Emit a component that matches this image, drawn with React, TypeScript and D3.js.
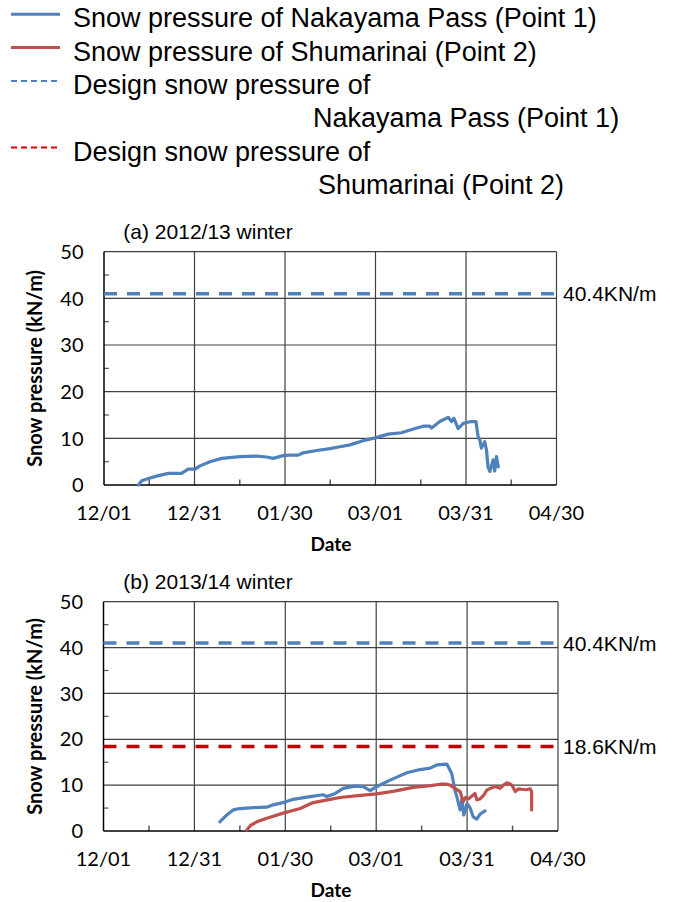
import * as d3 from 'd3';

// days counted from 12/01 of each winter
const tickDays = [0, 30, 60, 90, 120, 150];
const tickLabels = ['12/01', '12/31', '01/30', '03/01', '03/31', '04/30'];
const minorDays = [15, 45, 75, 105, 135];
const yTicks = [0, 10, 20, 30, 40, 50];
const yMinor = [5, 15, 25, 35, 45];

// (a) 2012/13 winter, Nakayama Pass
const nakayama1213: [number, number][] = [
  [11.4, 0], [12.5, 0.9], [14.7, 1.4], [17.4, 1.9], [21.3, 2.5], [25.7, 2.5], [27.9, 3.4],
  [30.2, 3.4], [31.8, 4.1], [35.1, 5.0], [39.0, 5.7], [45.1, 6.1], [50.6, 6.2], [53.9, 6.0],
  [56.1, 5.7], [59.4, 6.3], [61.6, 6.4], [64.4, 6.4], [66.0, 6.9], [70.5, 7.4], [74.9, 7.8],
  [78.2, 8.2], [81.5, 8.6], [85.9, 9.5], [89.9, 10.1], [94.2, 10.9], [98.6, 11.2], [102.0, 11.9],
  [105.8, 12.6], [108.0, 12.6], [108.6, 12.2], [111.3, 13.6], [114.1, 14.5], [115.2, 13.6],
  [116.0, 14.3], [117.4, 12.1], [119.1, 13.2], [120.2, 13.4], [121.8, 13.6], [123.3, 13.6],
  [124.0, 10.4], [124.6, 9.6], [125.1, 7.9], [126.2, 9.3], [126.8, 7.5], [127.3, 3.9],
  [127.9, 2.9], [129.0, 5.4], [129.5, 3.0], [130.1, 6.1], [130.7, 3.9]
];

// (b) 2013/14 winter
const nakayama1314: [number, number][] = [
  [38.4, 2.0], [40.7, 3.5], [42.8, 4.6], [45.0, 4.9], [49.4, 5.1], [53.9, 5.2], [56.0, 5.7],
  [59.9, 6.3], [62.6, 6.9], [68.2, 7.5], [72.5, 7.9], [73.7, 7.5], [76.5, 8.2], [79.1, 9.3],
  [83.0, 9.8], [85.7, 9.7], [88.0, 8.8], [90.2, 9.7], [94.6, 11.1], [100.1, 12.7], [104.5, 13.4],
  [107.8, 13.7], [110.0, 14.4], [113.3, 14.6], [114.9, 12.6], [116.0, 8.9], [116.6, 7.5],
  [117.7, 4.6], [118.3, 7.0], [118.9, 3.5], [120.0, 6.0], [121.0, 5.0], [122.0, 3.1],
  [123.2, 2.6], [124.3, 3.7], [125.9, 4.4]
];

const shumarinai1314: [number, number][] = [
  [47.3, 0.2], [48.5, 1.2], [50.6, 2.0], [53.9, 2.8], [59.3, 3.9], [64.9, 4.9], [69.2, 6.2],
  [74.8, 6.9], [78.1, 7.3], [84.0, 7.7], [90.2, 8.1], [96.0, 8.7], [102.2, 9.5], [108.0, 9.9],
  [111.1, 10.2], [113.3, 10.2], [114.4, 10.0], [116.0, 9.3], [117.7, 8.6], [118.7, 6.4],
  [119.5, 7.3], [120.4, 7.0], [121.5, 7.6], [122.6, 8.2], [123.2, 6.8], [124.3, 7.0],
  [125.5, 7.8], [126.5, 8.9], [128.0, 9.4], [129.2, 9.7], [130.9, 9.3], [132.0, 10.0],
  [133.1, 10.5], [134.0, 10.3], [134.8, 10.0], [135.9, 8.6], [137.0, 9.2], [138.0, 9.1],
  [139.5, 9.0], [140.8, 9.2], [141.3, 8.6], [141.3, 4.6]
];

// design snow pressure lines (drawn position) and their labels
const designNakayama = 41;
const designShumarinai = 18.4;

const BLUE = '#4F81BD';
const RED = '#C0504D';
const DARKRED = '#C00000';
const ARIAL = '"Liberation Sans", Arial, sans-serif';
const CALIBRI = 'Lato, "Open Sans", sans-serif';

type Series = { data: [number, number][]; color: string };
type Design = { value: number; color: string; label: string };

function Panel({ title, left, right, top, bottom, series, designs }: {
  title: string; left: number; right: number; top: number; bottom: number;
  series: Series[]; designs: Design[];
}) {
  const x = d3.scaleLinear().domain([0, 150]).range([left, right]);
  const y = d3.scaleLinear().domain([0, 50]).range([bottom, top]);
  const line = d3.line<[number, number]>().x(d => x(d[0])).y(d => y(d[1]));
  const cy = (top + bottom) / 2;

  return (
    <g>
      <text x={208} y={top - 12.4} textAnchor="middle" fontFamily={ARIAL} fontSize={21}>{title}</text>

      {/* gridlines */}
      {yTicks.slice(1).map(t => (
        <line key={'h' + t} x1={left} x2={right} y1={y(t)} y2={y(t)} stroke="#404040" strokeWidth={1.2} />
      ))}
      {tickDays.slice(1).map(t => (
        <line key={'v' + t} x1={x(t)} x2={x(t)} y1={top} y2={bottom} stroke="#404040" strokeWidth={1.2} />
      ))}

      {/* minor ticks */}
      {yMinor.map(t => (
        <line key={'ym' + t} x1={left} x2={left + 5} y1={y(t)} y2={y(t)} stroke="#595959" strokeWidth={1.2} />
      ))}
      {minorDays.map(t => (
        <line key={'xm' + t} x1={x(t)} x2={x(t)} y1={bottom} y2={bottom - 5.5} stroke="#595959" strokeWidth={1.5} />
      ))}

      {/* axes */}
      <line x1={left} x2={left} y1={top} y2={bottom} stroke="#000" strokeWidth={1.5} />
      <line x1={left} x2={right} y1={bottom} y2={bottom} stroke="#000" strokeWidth={1.5} />

      {yTicks.map(t => (
        <text key={'yl' + t} x={left - 20.5} y={y(t)} dy="0.36em" textAnchor="end"
          fontFamily={CALIBRI} fontSize={20} fill="#000">{t}</text>
      ))}
      {tickDays.map((t, i) => (
        <text key={'xl' + t} x={x(t)} y={bottom + 35} textAnchor="middle"
          fontFamily={CALIBRI} fontSize={20} fill="#000">{tickLabels[i]}</text>
      ))}

      <text x={331} y={bottom + 65.5} textAnchor="middle" fontFamily={CALIBRI} fontWeight="bold" fontSize={19}>Date</text>
      <text transform={`translate(42,${cy}) rotate(-90)`} textAnchor="middle" fontFamily={CALIBRI}
        fontWeight="bold" fontSize={20}>Snow pressure (kN/m)</text>

      {/* design lines */}
      {designs.map(d => (
        <g key={d.label}>
          <line x1={left} x2={right} y1={y(d.value)} y2={y(d.value)} stroke={d.color}
            strokeWidth={3.5} strokeDasharray="13 10" />
          <text x={563} y={y(d.value)} dy="0.36em" fontFamily={ARIAL} fontSize={21}>{d.label}</text>
        </g>
      ))}

      {series.map((s, i) => (
        <path key={i} d={line(s.data) ?? ''} fill="none" stroke={s.color} strokeWidth={3.2}
          strokeLinejoin="round" strokeLinecap="round" />
      ))}
    </g>
  );
}

function Legend() {
  const rows = [
    { y: 14.3, dash: null, color: BLUE, text: 'Snow pressure of Nakayama Pass (Point 1)', tx: 73 },
    { y: 47.6, dash: null, color: RED, text: 'Snow pressure of Shumarinai (Point 2)', tx: 73 },
    { y: 80.9, dash: '6 4', color: BLUE, text: 'Design snow pressure of', tx: 73 },
    { y: 114.2, dash: 'none', color: 'none', text: 'Nakayama Pass (Point 1)', tx: 313 },
    { y: 147.5, dash: '6 4', color: '#E00000', text: 'Design snow pressure of', tx: 73 },
    { y: 180.8, dash: 'none', color: 'none', text: 'Shumarinai (Point 2)', tx: 318 }
  ];
  return (
    <g>
      {rows.map((r, i) => (
        <g key={i}>
          {r.color !== 'none' && (
            <line x1={11} x2={60} y1={r.y} y2={r.y} stroke={r.color} strokeWidth={r.dash ? 2 : 3}
              strokeDasharray={r.dash ?? undefined} />
          )}
          <text x={r.tx} y={r.y + 13} fontFamily={ARIAL} fontSize={27} fill="#000">{r.text}</text>
        </g>
      ))}
    </g>
  );
}

export default function App() {
  return (
    <svg width={673} height={902} style={{ position: 'absolute', left: 0, top: 0, background: '#fff' }}>
      <rect width={673} height={902} fill="#fff" />
      <Legend />
      <Panel title="(a) 2012/13 winter" left={104} right={556.5} top={251.7} bottom={485}
        series={[{ data: nakayama1213, color: BLUE }]}
        designs={[{ value: designNakayama, color: BLUE, label: '40.4KN/m' }]} />
      <Panel title="(b) 2013/14 winter" left={103.5} right={558} top={601.7} bottom={831}
        series={[{ data: nakayama1314, color: BLUE }, { data: shumarinai1314, color: RED }]}
        designs={[
          { value: designNakayama, color: BLUE, label: '40.4KN/m' },
          { value: designShumarinai, color: DARKRED, label: '18.6KN/m' }
        ]} />
    </svg>
  );
}
